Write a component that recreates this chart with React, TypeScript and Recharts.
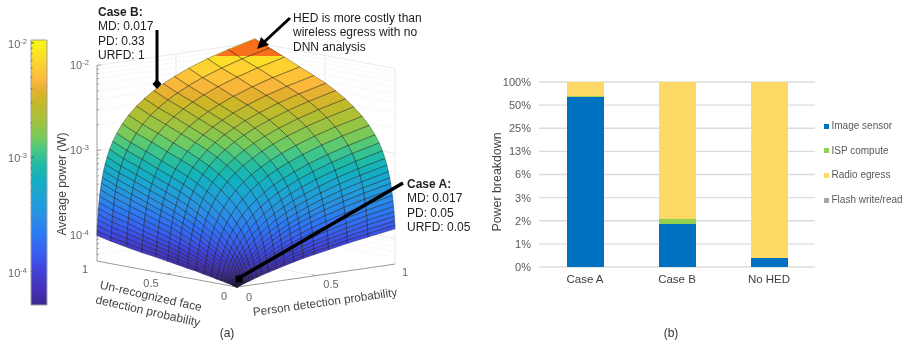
import { BarChart, Bar, CartesianGrid, ComposedChart, ReferenceArea, ReferenceLine, Scatter, ScatterChart, XAxis, YAxis } from "recharts";
import type { CSSProperties } from "react";

// grid lines of the surface, read along its edges
const pdGrid = [0, 0.0012, 0.0028, 0.0048, 0.007, 0.0097, 0.013, 0.017, 0.022, 0.028, 0.034, 0.042, 0.052, 0.064, 0.08, 0.1, 0.125, 0.16, 0.2, 0.25, 0.3, 0.36, 0.42, 0.49, 0.58, 0.7, 0.83, 1];
const urfdGrid = [0, 0.0013, 0.0031, 0.0053, 0.0078, 0.011, 0.0146, 0.019, 0.025, 0.031, 0.038, 0.047, 0.058, 0.072, 0.09, 0.113, 0.143, 0.185, 0.235, 0.295, 0.355, 0.425, 0.495, 0.58, 0.68, 0.79, 0.9, 1];

// average power in units of 10 uW, one row per urfdGrid value, one column per pdGrid value
const powerRows = [
  [5, 5, 5, 5, 5.1, 5.1, 5.1, 5.1, 5.2, 5.2, 5.3, 5.3, 5.4, 5.5, 5.6, 5.8, 6, 6.3, 6.6, 7, 7.4, 7.9, 8.4, 8.9, 9.6, 10.6, 11.6, 13],
  [5, 5, 5, 5, 5.1, 5.1, 5.1, 5.2, 5.2, 5.3, 5.3, 5.4, 5.5, 5.6, 5.7, 5.9, 6.2, 6.5, 6.9, 7.3, 7.8, 8.3, 8.9, 9.6, 10.4, 11.5, 12.7, 14.3],
  [5, 5, 5, 5.1, 5.1, 5.1, 5.1, 5.2, 5.2, 5.3, 5.4, 5.5, 5.6, 5.7, 5.9, 6.1, 6.4, 6.8, 7.2, 7.8, 8.3, 9, 9.6, 10.4, 11.4, 12.7, 14.1, 16],
  [5, 5, 5, 5.1, 5.1, 5.1, 5.2, 5.2, 5.3, 5.4, 5.4, 5.6, 5.7, 5.8, 6.1, 6.3, 6.7, 7.1, 7.6, 8.3, 9, 9.8, 10.5, 11.5, 12.7, 14.2, 16, 18.2],
  [5, 5, 5, 5.1, 5.1, 5.2, 5.2, 5.3, 5.3, 5.4, 5.5, 5.7, 5.8, 6, 6.2, 6.6, 7, 7.5, 8.1, 8.9, 9.7, 10.6, 11.6, 12.6, 14, 15.9, 18, 20.6],
  [5, 5.1, 5.1, 5.1, 5.2, 5.2, 5.3, 5.4, 5.5, 5.6, 5.7, 5.8, 6, 6.2, 6.5, 6.9, 7.4, 8, 8.8, 9.7, 10.6, 11.7, 12.9, 14.2, 15.8, 18.1, 20.5, 23.7],
  [5.1, 5.1, 5.1, 5.2, 5.2, 5.3, 5.4, 5.4, 5.6, 5.7, 5.8, 6, 6.2, 6.5, 6.9, 7.3, 7.9, 8.6, 9.5, 10.6, 11.7, 13.1, 14.4, 16, 18, 20.6, 23.5, 27.3],
  [5.1, 5.1, 5.2, 5.2, 5.3, 5.3, 5.4, 5.5, 5.7, 5.8, 6, 6.2, 6.5, 6.8, 7.2, 7.7, 8.4, 9.3, 10.4, 11.7, 13, 14.6, 16.2, 18.1, 20.5, 23.6, 27.1, 31.6],
  [5.1, 5.1, 5.2, 5.3, 5.3, 5.4, 5.5, 5.7, 5.8, 6, 6.2, 6.5, 6.8, 7.2, 7.7, 8.3, 9.1, 10.2, 11.5, 13.1, 14.7, 16.6, 18.6, 20.8, 23.7, 27.5, 31.7, 37.1],
  [5.1, 5.2, 5.2, 5.3, 5.4, 5.5, 5.6, 5.8, 6, 6.2, 6.4, 6.8, 7.1, 7.6, 8.2, 9, 10, 11.3, 12.8, 14.8, 16.7, 19, 21.3, 24, 27.5, 32.1, 37.1, 43.6],
  [5.2, 5.2, 5.3, 5.4, 5.5, 5.6, 5.8, 6, 6.2, 6.4, 6.7, 7.1, 7.5, 8.1, 8.8, 9.7, 10.8, 12.4, 14.2, 16.4, 18.7, 21.4, 24.1, 27.3, 31.3, 36.7, 42.6, 50.3],
  [5.2, 5.3, 5.4, 5.5, 5.6, 5.7, 5.9, 6.1, 6.4, 6.7, 7, 7.5, 8, 8.6, 9.5, 10.6, 12, 13.8, 16, 18.7, 21.3, 24.6, 27.8, 31.6, 36.4, 42.9, 49.9, 59],
  [5.3, 5.3, 5.4, 5.6, 5.7, 5.9, 6.1, 6.4, 6.7, 7.1, 7.5, 8, 8.6, 9.4, 10.4, 11.7, 13.4, 15.6, 18.2, 21.4, 24.7, 28.6, 32.4, 37, 42.8, 50.6, 59, 70],
  [5.3, 5.4, 5.5, 5.7, 5.9, 6.1, 6.3, 6.6, 7, 7.5, 8, 8.6, 9.4, 10.3, 11.5, 13.1, 15, 17.8, 20.9, 24.8, 28.7, 33.3, 38, 43.4, 50.4, 59.8, 70, 83],
  [5.4, 5.5, 5.7, 5.9, 6.1, 6.3, 6.6, 7, 7.5, 8.1, 8.6, 9.4, 10.4, 11.5, 13, 14.9, 17.3, 20.6, 24.4, 29.2, 34, 39.7, 45.4, 52, 60.6, 72, 84.4, 101],
  [5.5, 5.6, 5.8, 6.1, 6.3, 6.6, 7, 7.5, 8.1, 8.8, 9.5, 10.4, 11.6, 13, 14.9, 17.2, 20.1, 24.2, 28.9, 34.8, 40.6, 47.6, 54.6, 62.8, 73.4, 87.4, 103, 123],
  [5.6, 5.8, 6, 6.3, 6.6, 7, 7.5, 8.1, 8.8, 9.7, 10.5, 11.7, 13.1, 14.8, 17.2, 20, 23.6, 28.7, 34.4, 41.6, 48.8, 57.5, 66, 76, 89, 106, 125, 150],
  [5.8, 6, 6.3, 6.7, 7.1, 7.6, 8.2, 8.9, 9.8, 10.9, 12, 13.4, 15.3, 17.4, 20.4, 24, 28.6, 34.9, 42.2, 51.3, 60.4, 71.3, 82.2, 95, 111, 133, 157, 188],
  [6, 6.3, 6.6, 7.1, 7.6, 8.2, 8.9, 9.8, 11, 12.3, 13.7, 15.5, 17.8, 20.5, 24.1, 28.6, 34.3, 42.2, 51.2, 62.5, 73.8, 87.4, 101, 117, 137, 164, 194, 232],
  [6.3, 6.6, 7, 7.6, 8.2, 9, 9.9, 11, 12.4, 14.1, 15.8, 18, 20.8, 24.2, 28.7, 34.3, 41.3, 51.1, 62.4, 76.4, 90.4, 107, 124, 144, 169, 203, 239, 287],
  [6.5, 6.9, 7.4, 8.1, 8.8, 9.7, 10.9, 12.2, 13.9, 15.9, 17.9, 20.6, 23.9, 27.9, 33.3, 40, 48.4, 60.1, 73.5, 90.3, 107, 127, 147, 171, 201, 241, 285, 342],
  [6.8, 7.3, 7.9, 8.7, 9.6, 10.7, 12, 13.6, 15.6, 18, 20.4, 23.6, 27.6, 32.4, 38.8, 46.8, 56.8, 70.8, 86.8, 107, 127, 151, 175, 203, 239, 287, 339, 407],
  [7.1, 7.7, 8.4, 9.3, 10.4, 11.6, 13.2, 15, 17.4, 20.1, 23, 26.7, 31.3, 36.9, 44.4, 53.7, 65.4, 82, 100, 124, 147, 175, 203, 236, 277, 333, 394, 473],
  [7.5, 8.1, 9, 10.1, 11.2, 12.7, 14.5, 16.7, 19.4, 22.6, 25.9, 30.2, 35.6, 42.1, 50.8, 61.7, 75.2, 94.2, 116, 143, 170, 203, 235, 273, 322, 387, 457, 549],
  [7.9, 8.7, 9.7, 11, 12.4, 14.1, 16.2, 18.8, 22, 25.8, 29.7, 34.8, 41.2, 48.9, 59, 72, 88, 110, 136, 168, 200, 238, 277, 321, 379, 456, 539, 648],
  [8.5, 9.4, 10.7, 12.2, 13.9, 16, 18.5, 21.6, 25.5, 30.1, 34.7, 40.9, 48.6, 57.8, 70, 86, 105, 132, 163, 201, 240, 286, 332, 386, 456, 548, 648, 780],
  [9.2, 10.2, 11.7, 13.5, 15.5, 18, 21, 24.7, 29.2, 34.7, 40.2, 47.5, 56.6, 67.6, 82, 101, 123, 155, 192, 238, 283, 338, 393, 457, 539, 648, 767, 922],
  [10, 11.3, 13.1, 15.3, 17.7, 20.7, 24.3, 28.7, 34.2, 40.7, 47.3, 56.1, 67.1, 80.3, 98, 120, 147, 186, 230, 285, 339, 405, 471, 548, 647, 779, 921, 1108],
];

const colorLogs = [-1.97, -2.15, -2.32, -2.41, -2.5, -2.67, -2.85, -2.93, -3.07, -3.2, -3.37, -3.55, -3.68, -3.85, -4, -4.16, -4.29];
const colorHexes = ["#f8fa12", "#fcd82c", "#fdb93e", "#e5b030", "#c9b826", "#a5c13a", "#6fcb5f", "#47c883", "#1fbaa6", "#12b0c2", "#1fa0d8", "#2a8ce6", "#2c78f5", "#3a5cf0", "#4040d8", "#4530b8", "#3b2a8f"];

const powerTicks = [1e-2, 1e-3, 1e-4];
const powerMinorTicks = [9e-3, 8e-3, 7e-3, 6e-3, 5e-3, 4e-3, 3e-3, 2e-3, 9e-4, 8e-4, 7e-4, 6e-4, 5e-4, 4e-4, 3e-4, 2e-4, 9e-5, 8e-5, 7e-5, 6e-5];
const floorPower = 5e-5;

// panel (b)
const breakdownCases = ["Case A", "Case B", "No HED"];
const imageSensor = [64, 1.42, 0.51];
const ispCompute = [1, 0.23, 0];
const radioEgress = [35, 98.35, 99.49];
const flashWrite = [0, 0, 0];
const breakdownTicks = [100, 50, 25, 12.5, 6.25, 3.125, 1.5625, 0.78125, 0.390625];
const legendNames = ["Image sensor", "ISP compute", "Radio egress", "Flash write/read"];
const legendColors = ["#0070c0", "#92d050", "#ffd966", "#a5a5a5"];

const breakdownRows = breakdownCases.map((name, i) => ({
  name,
  sensorTop: imageSensor[i],
  ispTop: imageSensor[i] + ispCompute[i],
  radioTop: imageSensor[i] + ispCompute[i] + radioEgress[i],
  flashTop: imageSensor[i] + ispCompute[i] + radioEgress[i] + flashWrite[i],
}));

type Pt = { x: number; y: number };

// matlab view of the surface box, chart units are page pixels
function project(pd: number, urfd: number, watts: number): Pt {
  return {
    x: 237 + pd * 158 - urfd * 140,
    y: 287 - pd * 23 - urfd * 26 - 85 * (Math.log10(watts) + 4.3),
  };
}

function mix(a: string, b: string, t: number) {
  const ca = [1, 3, 5].map((i) => parseInt(a.slice(i, i + 2), 16));
  const cb = [1, 3, 5].map((i) => parseInt(b.slice(i, i + 2), 16));
  return `rgb(${ca.map((v, i) => Math.round(v + (cb[i] - v) * t)).join(",")})`;
}

function colorAt(logW: number) {
  for (let i = 1; i < colorLogs.length; i++) {
    if (logW >= colorLogs[i]) {
      return mix(colorHexes[i], colorHexes[i - 1], (logW - colorLogs[i]) / (colorLogs[i - 1] - colorLogs[i]));
    }
  }
  return colorHexes[colorHexes.length - 1];
}

const quadPoints: Pt[] = [];
const quadColors: string[] = [];
for (let r = urfdGrid.length - 2; r >= 0; r--) {
  for (let c = pdGrid.length - 2; c >= 0; c--) {
    const corners = [
      [c, r],
      [c + 1, r],
      [c + 1, r + 1],
      [c, r + 1],
    ];
    let sum = 0;
    for (const [ci, ri] of corners) {
      const watts = powerRows[ri][ci] * 1e-5;
      sum += Math.log10(watts);
      quadPoints.push(project(pdGrid[ci], urfdGrid[ri], watts));
    }
    quadColors.push(colorAt(sum / 4));
  }
}

const wallSolid: Pt[] = [];
for (const w of powerTicks) {
  wallSolid.push(project(0, 1, w), project(1, 1, w), project(1, 1, w), project(1, 0, w));
}
for (const [p, u] of [[0.5, 1], [1, 1], [1, 0.5], [1, 0]]) {
  wallSolid.push(project(p, u, floorPower), project(p, u, 1e-2));
}
wallSolid.push(project(0.5, 0, floorPower), project(0.5, 1, floorPower), project(0, 0.5, floorPower), project(1, 0.5, floorPower));

const wallDotted: Pt[] = [];
for (const w of powerMinorTicks) {
  wallDotted.push(project(0, 1, w), project(1, 1, w), project(1, 1, w), project(1, 0, w));
}

const axisSegments: Pt[] = [
  project(0, 1, floorPower),
  project(0, 1, 1e-2),
  project(0, 1, floorPower),
  project(0, 0, floorPower),
  project(0, 0, floorPower),
  project(1, 0, floorPower),
  project(0.5, 0, floorPower),
  project(0.5, 0.025, floorPower),
  project(0, 0.5, floorPower),
  project(0.025, 0.5, floorPower),
];
for (const w of powerTicks) axisSegments.push(project(0, 1, w), project(0.025, 1, w));
for (const w of powerMinorTicks) axisSegments.push(project(0, 1, w), project(0.012, 1, w));

const orangeTip: Pt[] = [
  { x: 215, y: 56 },
  { x: 228, y: 50 },
  { x: 255, y: 39 },
  { x: 269, y: 47 },
  { x: 283, y: 56 },
];

const caseBArrow: Pt[] = [{ x: 157, y: 30 }, { x: 157, y: 84 }];
const hedArrow: Pt[] = [{ x: 290, y: 18 }, { x: 262, y: 44 }];
const caseAArrow: Pt[] = [{ x: 403, y: 183 }, { x: 239, y: 278 }];

const NoMark = () => <g />;

function quadFills({ points }: { points: Pt[] }) {
  return (
    <g>
      {quadColors.map((color, i) => {
        const q = points.slice(i * 4, i * 4 + 4);
        return <polygon key={i} points={q.map((p) => `${p.x},${p.y}`).join(" ")} fill={color} stroke={color} strokeWidth={0.4} />;
      })}
    </g>
  );
}

function quadEdges({ points }: { points: Pt[] }) {
  let d = "";
  for (let i = 0; i < points.length; i += 4) {
    const [a, b, c, e] = points.slice(i, i + 4);
    d += `M${a.x} ${a.y}L${b.x} ${b.y}L${c.x} ${c.y}L${e.x} ${e.y}Z`;
  }
  return <path d={d} fill="none" stroke="#1c1c1c" strokeOpacity={0.45} strokeWidth={0.7} />;
}

function segments(stroke: string, strokeWidth: number, strokeDasharray?: string) {
  return ({ points }: { points: Pt[] }) => {
    let d = "";
    for (let i = 0; i + 1 < points.length; i += 2) {
      d += `M${points[i].x} ${points[i].y}L${points[i + 1].x} ${points[i + 1].y}`;
    }
    return <path d={d} fill="none" stroke={stroke} strokeWidth={strokeWidth} strokeDasharray={strokeDasharray} />;
  };
}

function tipFill({ points }: { points: Pt[] }) {
  return <polygon points={points.map((p) => `${p.x},${p.y}`).join(" ")} fill="#f8701c" />;
}

const DiamondHead = ({ cx, cy }: { cx: number; cy: number }) => (
  <polygon points={`${cx},${cy - 5} ${cx + 4.5},${cy} ${cx},${cy + 5} ${cx - 4.5},${cy}`} fill="#000" />
);
const TriangleHead = ({ cx, cy }: { cx: number; cy: number }) => (
  <polygon points={`${cx - 5},${cy + 5} ${cx + 7},${cy + 1} ${cx - 1},${cy - 7}`} fill="#000" />
);
const SquareHead = ({ cx, cy }: { cx: number; cy: number }) => <rect x={cx - 3.5} y={cy - 2.5} width={7} height={7} fill="#000" />;

function PowerTick({ x, y, payload }: { x: number; y: number; payload: { value: number } }) {
  return (
    <text x={x + 4} y={y + 5} textAnchor="end" fill="#666" fontSize={11}>
      10
      <tspan dy={-4} fontSize={7.5}>
        {Math.round(Math.log10(payload.value))}
      </tspan>
    </text>
  );
}

function PowerLabel({ left, top, exp }: { left: number; top: number; exp: number }) {
  return (
    <div style={{ ...abs, left, top, fontSize: 11, color: "#666", lineHeight: "14px" }}>
      10<span style={{ fontSize: 7.5, position: "relative", top: -4 }}>{exp}</span>
    </div>
  );
}

const abs: CSSProperties = { position: "absolute", whiteSpace: "nowrap" };

function Note({ left, top, title, lines }: { left: number; top: number; title?: string; lines: string[] }) {
  return (
    <div style={{ ...abs, left, top, fontSize: 12, lineHeight: "14.4px", color: "#222" }}>
      {title && <div style={{ fontWeight: 700 }}>{title}</div>}
      {lines.map((l) => (
        <div key={l}>{l}</div>
      ))}
    </div>
  );
}

function Small({ x, y, text, color = "#666", size = 11 }: { x: number; y: number; text: string; color?: string; size?: number }) {
  return <div style={{ ...abs, left: x, top: y, transform: "translate(-50%,-50%)", fontSize: size, color }}>{text}</div>;
}

function Rotated({ x, y, deg, text, size = 12 }: { x: number; y: number; deg: number; text: string; size?: number }) {
  return <div style={{ ...abs, left: x, top: y, transform: `translate(-50%,-50%) rotate(${deg}deg)`, fontSize: size, color: "#444" }}>{text}</div>;
}

function SurfacePanel() {
  return (
    <div style={{ ...abs, left: 0, top: 0 }}>
      <ScatterChart width={420} height={341} margin={{ top: 0, right: 0, bottom: 0, left: 0 }}>
        <XAxis type="number" dataKey="x" domain={[0, 420]} hide allowDataOverflow />
        <YAxis type="number" dataKey="y" domain={[0, 341]} reversed hide allowDataOverflow />
        <Scatter data={wallDotted} line={segments("#e4e4e4", 0.8, "1 2")} shape={NoMark} isAnimationActive={false} />
        <Scatter data={wallSolid} line={segments("#e6e6e6", 0.8)} shape={NoMark} isAnimationActive={false} />
        <Scatter data={axisSegments} line={segments("#9a9a9a", 1)} shape={NoMark} isAnimationActive={false} />
        <Scatter data={quadPoints} line={quadFills} shape={NoMark} isAnimationActive={false} />
        <Scatter data={orangeTip} line={tipFill} shape={NoMark} isAnimationActive={false} />
        <Scatter data={quadPoints} line={quadEdges} shape={NoMark} isAnimationActive={false} />
        <Scatter data={caseBArrow} line={segments("#000", 3)} shape={NoMark} isAnimationActive={false} />
        <Scatter data={caseBArrow.slice(1)} shape={DiamondHead} isAnimationActive={false} />
        <Scatter data={hedArrow} line={segments("#000", 3)} shape={NoMark} isAnimationActive={false} />
        <Scatter data={hedArrow.slice(1)} shape={TriangleHead} isAnimationActive={false} />
        <Scatter data={caseAArrow} line={segments("#000", 3.5)} shape={NoMark} isAnimationActive={false} />
        <Scatter data={caseAArrow.slice(1)} shape={SquareHead} isAnimationActive={false} />
      </ScatterChart>
    </div>
  );
}

function ColorBar() {
  const logTop = Math.log10(0.0106);
  const logBottom = Math.log10(5.1e-5);
  return (
    <div style={{ ...abs, left: 0, top: 0 }}>
      <ComposedChart width={60} height={341} data={[{ x: 0.5 }]} margin={{ top: 40, right: 13, bottom: 36, left: 0 }}>
        <defs>
          <linearGradient id="powerScale" x1="0" y1="0" x2="0" y2="1">
            {colorLogs.map((l, i) => (
              <stop key={l} offset={(logTop - l) / (logTop - logBottom)} stopColor={colorHexes[i]} />
            ))}
          </linearGradient>
        </defs>
        <XAxis type="number" dataKey="x" domain={[0, 1]} hide />
        <YAxis width={31} scale="log" domain={[5.1e-5, 0.0106]} ticks={powerTicks} tick={PowerTick} axisLine={false} tickLine={false} allowDataOverflow />
        <ReferenceArea x1={0} x2={1} y1={5.1e-5} y2={0.0106} fill="url(#powerScale)" fillOpacity={1} stroke="#a0a0a0" strokeWidth={1} />
        {powerTicks.map((v) => (
          <ReferenceLine key={v} segment={[{ x: 0, y: v }, { x: 0.18, y: v }]} stroke="#555" />
        ))}
        {powerMinorTicks.map((v) => (
          <ReferenceLine key={v} segment={[{ x: 0, y: v }, { x: 0.09, y: v }]} stroke="#666" />
        ))}
      </ComposedChart>
    </div>
  );
}

function BreakdownPanel() {
  return (
    <div style={{ ...abs, left: 490, top: 0 }}>
      <BarChart width={325} height={341} data={breakdownRows} barSize={37} barGap={-37} margin={{ top: 82, right: 0, bottom: 0, left: 0 }}>
        <CartesianGrid horizontal vertical={false} stroke="#dcdcdc" strokeWidth={1.3} />
        <XAxis dataKey="name" axisLine={false} tickLine={false} tick={{ fill: "#404040", fontSize: 11.5 }} tickMargin={2} height={74} />
        <YAxis
          width={49}
          scale="log"
          domain={[0.390625, 100]}
          ticks={breakdownTicks}
          interval={0}
          allowDataOverflow
          axisLine={false}
          tickLine={false}
          tick={{ fill: "#595959", fontSize: 11 }}
          tickFormatter={(v: number) => `${Math.round(v)}%`}
        />
        <Bar dataKey="flashTop" fill={legendColors[3]} isAnimationActive={false} />
        <Bar dataKey="radioTop" fill={legendColors[2]} isAnimationActive={false} />
        <Bar dataKey="ispTop" fill={legendColors[1]} isAnimationActive={false} />
        <Bar dataKey="sensorTop" fill={legendColors[0]} isAnimationActive={false} />
      </BarChart>
    </div>
  );
}

export default function App() {
  return (
    <div style={{ position: "absolute", left: 0, top: 0, width: 909, height: 341, overflow: "hidden", background: "#fff", filter: "blur(0.4px)", fontFamily: "'Liberation Sans', Arial, sans-serif" }}>
      <SurfacePanel />
      <ColorBar />
      <BreakdownPanel />

      <PowerLabel left={70} top={58} exp={-2} />
      <PowerLabel left={70} top={143} exp={-3} />
      <PowerLabel left={70} top={228} exp={-4} />

      <Note left={98} top={5} title="Case B:" lines={["MD: 0.017", "PD: 0.33", "URFD: 1"]} />
      <Note left={293} top={11} lines={["HED is more costly than", "wireless egress with no", "DNN analysis"]} />
      <Note left={407} top={177} title="Case A:" lines={["MD: 0.017", "PD: 0.05", "URFD: 0.05"]} />

      <Rotated x={62} y={184} deg={-90} text="Average power (W)" />
      <Rotated x={151} y={296} deg={12.7} text="Un-recognized face" />
      <Rotated x={148} y={311} deg={12.7} text="detection probability" />
      <Rotated x={325} y={302} deg={-7.9} text="Person detection probability" size={11.8} />

      <Small x={85} y={269} text="1" />
      <Small x={151} y={283} text="0.5" />
      <Small x={224} y={296} text="0" />
      <Small x={249} y={297} text="0" />
      <Small x={331} y={284} text="0.5" />
      <Small x={405} y={272} text="1" />
      <Small x={227} y={333} text="(a)" color="#333" size={12} />
      <Small x={671} y={333} text="(b)" color="#333" size={12} />

      <Rotated x={497} y={182} deg={-90} text="Power breakdown" size={12.4} />

      {legendNames.map((name, i) => (
        <div key={name}>
          <div style={{ ...abs, left: 824, top: 123.5 + i * 24.7, width: 5, height: 5, background: legendColors[i] }} />
          <div style={{ ...abs, left: 831.5, top: 120 + i * 24.7, fontSize: 10, lineHeight: "12px", color: "#595959" }}>{name}</div>
        </div>
      ))}
    </div>
  );
}
